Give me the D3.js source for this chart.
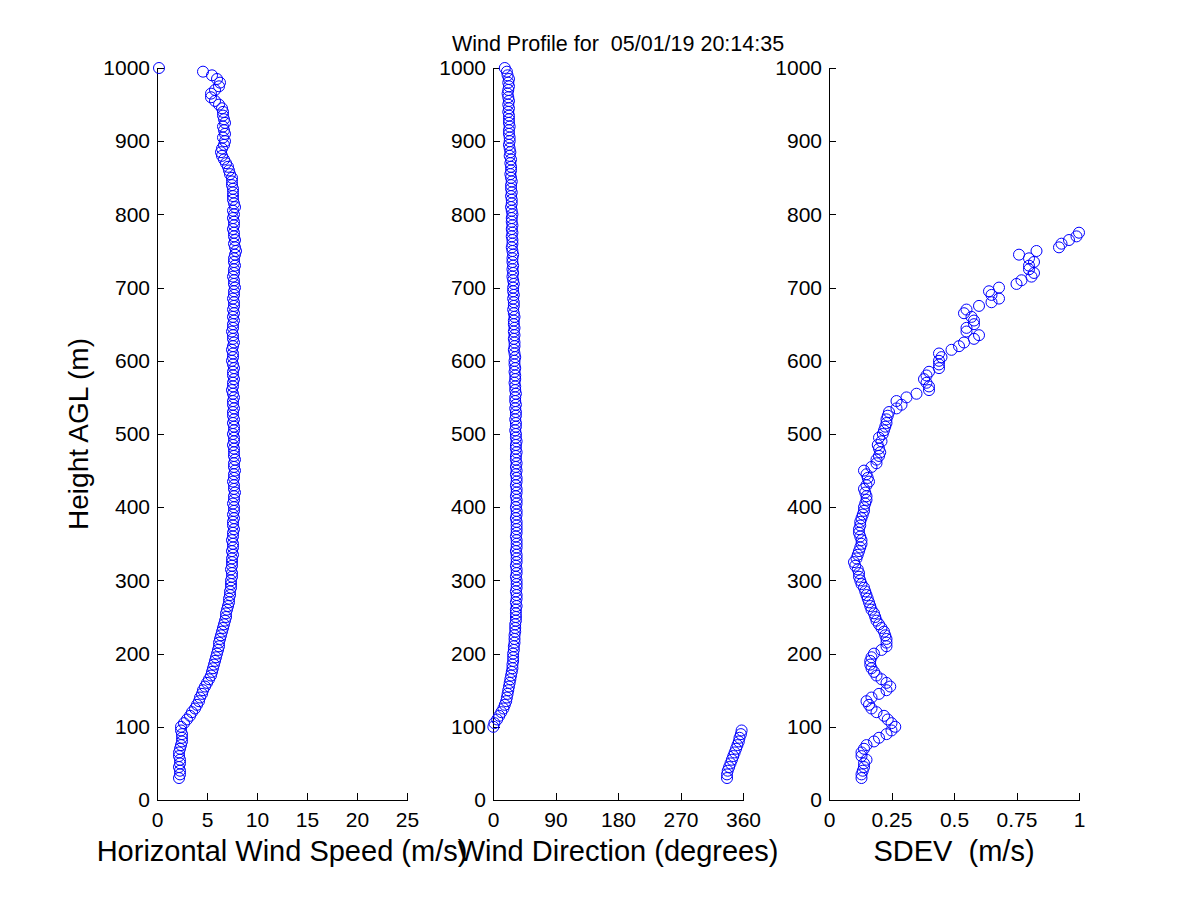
<!DOCTYPE html>
<meta charset="utf-8">
<html>

<head>
  <script src="https://d3js.org/d3.v7.min.js" charset="utf-8"></script>

  <style>
    body {
      margin: 0;
      background-color: white;
    }

    text {
      font-family: 'Liberation Sans', Arial, Helvetica, sans-serif;
      fill: black;
      white-space: pre;
    }

    .axis text {
      font-size: 21px;
    }

    .axis path,
    .axis line {
      fill: none;
      stroke: black;
      stroke-width: 1;
      shape-rendering: crispEdges;
    }

    circle {
      fill: none;
      stroke: #0000ff;
      stroke-width: 1;
    }
  </style>
</head>

<body>
  <script>
    //Range gates (m AGL)
    var heights = [
      30, 35, 40, 45, 50, 55, 60, 65, 70, 75,
      80, 85, 90, 95, 100, 105, 110, 115, 120, 125,
      130, 135, 140, 145, 150, 155, 160, 165, 170, 175,
      180, 185, 190, 195, 200, 205, 210, 215, 220, 225,
      230, 235, 240, 245, 250, 255, 260, 265, 270, 275,
      280, 285, 290, 295, 300, 305, 310, 315, 320, 325,
      330, 335, 340, 345, 350, 355, 360, 365, 370, 375,
      380, 385, 390, 395, 400, 405, 410, 415, 420, 425,
      430, 435, 440, 445, 450, 455, 460, 465, 470, 475,
      480, 485, 490, 495, 500, 505, 510, 515, 520, 525,
      530, 535, 540, 545, 550, 555, 560, 565, 570, 575,
      580, 585, 590, 595, 600, 605, 610, 615, 620, 625,
      630, 635, 640, 645, 650, 655, 660, 665, 670, 675,
      680, 685, 690, 695, 700, 705, 710, 715, 720, 725,
      730, 735, 740, 745, 750, 755, 760, 765, 770, 775,
      780, 785, 790, 795, 800, 805, 810, 815, 820, 825,
      830, 835, 840, 845, 850, 855, 860, 865, 870, 875,
      880, 885, 890, 895, 900, 905, 910, 915, 920, 925,
      930, 935, 940, 945, 950, 955, 960, 965, 970, 975,
      980, 985, 990, 995, 1000
    ];

    //Horizontal wind speed (m/s), one per gate
    var windSpeed = [
      2.2, 2.3, 2.3, 2.2, 2.3, 2.3, 2.2, 2.2, 2.3, 2.4,
      2.5, 2.5, 2.5, 2.4, 2.4, 2.7, 3.0, 3.3, 3.5, 3.8,
      4.0, 4.2, 4.3, 4.5, 4.6, 4.8, 5.0, 5.2, 5.4, 5.5,
      5.6, 5.7, 5.8, 5.9, 6.0, 6.1, 6.2, 6.2, 6.3, 6.4,
      6.5, 6.6, 6.7, 6.8, 6.9, 6.9, 7.0, 7.1, 7.2, 7.2,
      7.3, 7.3, 7.4, 7.4, 7.4, 7.5, 7.5, 7.4, 7.5, 7.5,
      7.5, 7.6, 7.5, 7.6, 7.6, 7.5, 7.6, 7.6, 7.7, 7.6,
      7.6, 7.7, 7.6, 7.7, 7.7, 7.6, 7.7, 7.7, 7.8, 7.7,
      7.7, 7.6, 7.7, 7.7, 7.8, 7.7, 7.7, 7.8, 7.7, 7.7,
      7.7, 7.6, 7.7, 7.7, 7.6, 7.7, 7.7, 7.6, 7.7, 7.6,
      7.6, 7.7, 7.6, 7.6, 7.7, 7.6, 7.5, 7.6, 7.6, 7.7,
      7.6, 7.6, 7.7, 7.6, 7.5, 7.6, 7.6, 7.5, 7.6, 7.7,
      7.6, 7.6, 7.5, 7.6, 7.6, 7.7, 7.6, 7.7, 7.6, 7.7,
      7.7, 7.6, 7.7, 7.7, 7.8, 7.7, 7.7, 7.6, 7.7, 7.7,
      7.8, 7.7, 7.7, 7.8, 7.9, 7.8, 7.7, 7.8, 7.7, 7.7,
      7.6, 7.7, 7.7, 7.6, 7.7, 7.6, 7.8, 7.7, 7.6, 7.6,
      7.6, 7.6, 7.5, 7.5, 7.5, 7.3, 7.2, 7.1, 6.9, 6.7,
      6.5, 6.4, 6.5, 6.7, 6.8, 6.6, 6.8, 6.7, 6.6, 6.8,
      6.7, 6.6, 6.6, 6.5, 6.2, 5.8, 5.4, 5.4, 5.8, 6.2,
      6.3, 6.0, 5.5, 4.6, 0.2
    ];

    //Wind direction (degrees), one per gate
    var windDir = [
      337, 337, 338, 340, 342, 344, 346, 348, 350, 352,
      354, 355, 357, 358, 0.5, 2, 6, 9, 12, 15,
      17, 19, 20, 21, 22, 23, 24, 25, 26, 27,
      28, 28, 29, 29, 29, 30, 30, 31, 31, 31,
      32, 32, 32, 33, 33, 33, 33, 34, 33, 34,
      34, 33, 34, 34, 34, 33, 34, 34, 33, 34,
      34, 34, 33, 34, 34, 34, 33, 34, 34, 34,
      34, 33, 34, 34, 33, 34, 34, 33, 34, 34,
      33, 34, 34, 33, 34, 33, 34, 33, 33, 34,
      33, 33, 34, 33, 33, 32, 33, 33, 32, 33,
      33, 32, 33, 32, 32, 33, 32, 32, 31, 32,
      32, 31, 32, 31, 31, 32, 31, 30, 31, 31,
      30, 31, 30, 31, 30, 30, 31, 30, 29, 30,
      30, 29, 30, 29, 29, 30, 29, 28, 29, 28,
      29, 28, 28, 29, 28, 27, 28, 28, 27, 28,
      27, 28, 27, 27, 28, 27, 26, 27, 27, 26,
      27, 26, 26, 27, 26, 25, 26, 26, 25, 26,
      24, 25, 24, 23, 24, 24, 23, 23, 24, 23,
      23, 23, 22, 23, 22, 23, 22, 21, 22, 23,
      22, 23, 21, 20, 17
    ];

    //Standard deviation (m/s), gates 30..775 (higher values fall off the axis)
    var sdev = [
      0.13, 0.13, 0.135, 0.14, 0.14, 0.15, 0.13, 0.13, 0.14, 0.15,
      0.18, 0.20, 0.23, 0.25, 0.265, 0.25, 0.235, 0.22, 0.19, 0.17,
      0.16, 0.15, 0.17, 0.20, 0.23, 0.245, 0.23, 0.21, 0.19, 0.18,
      0.17, 0.165, 0.165, 0.17, 0.18, 0.21, 0.23, 0.23, 0.23, 0.225,
      0.22, 0.21, 0.20, 0.19, 0.185, 0.18, 0.17, 0.165, 0.16, 0.155,
      0.15, 0.145, 0.14, 0.13, 0.125, 0.12, 0.12, 0.115, 0.105, 0.10,
      0.11, 0.115, 0.12, 0.125, 0.13, 0.13, 0.125, 0.12, 0.12, 0.125,
      0.125, 0.13, 0.135, 0.14, 0.14, 0.145, 0.15, 0.15, 0.145, 0.14,
      0.15, 0.16, 0.155, 0.15, 0.14, 0.17, 0.19, 0.19, 0.20, 0.205,
      0.20, 0.195, 0.21, 0.20, 0.215, 0.22, 0.225, 0.23, 0.23, 0.235,
      0.24, 0.27, 0.29, 0.27, 0.31, 0.35, 0.40, 0.40, 0.39, 0.38,
      0.39, 0.40, 0.44, 0.44, 0.44, 0.45, 0.44, 0.49, 0.52, 0.54,
      0.58, 0.60, 0.55, 0.55, 0.58, 0.58, 0.57, 0.54, 0.55, 0.60,
      0.65, 0.68, 0.65, 0.64, 0.68, 0.75, 0.77, 0.81, 0.82, 0.80,
      0.80, 0.82, 0.80, 0.76, 0.83, 0.92, 0.93, 0.96, 0.99, 1.00
    ];

    //Tick labels
    var heightTicks = [0, 100, 200, 300, 400, 500, 600, 700, 800, 900, 1000];
    var speedTicks = [0, 5, 10, 15, 20, 25];
    var dirTicks = [0, 90, 180, 270, 360];
    var sdevTicks = [0, 0.25, 0.5, 0.75, 1];

    var title = 'Wind Profile for  05/01/19 20:14:35';

    //Layout (pixels)
    var W = 1200,
      H = 900;
    var plotTop = 68,
      plotBottom = 800,
      pw = 250;
    var lefts = [157, 493, 829];

    var svg = d3.select('body')
      .append('svg')
      .attr('width', W)
      .attr('height', H);

    //Shared y scale
    var y = d3.scaleLinear()
      .domain([0, 1000])
      .range([plotBottom, plotTop]);

    function panel(left, domain, ticks, values, label) {
      var g = svg.append('g')
        .attr('transform', `translate(${left}, 0)`);

      var x = d3.scaleLinear()
        .domain(domain)
        .range([0, pw]);

      //Y axis
      g.append('g')
        .attr('class', 'axis')
        .call(d3.axisLeft(y)
          .tickValues(heightTicks)
          .tickFormat(d => d)
          .tickSizeInner(-7)
          .tickSizeOuter(0)
          .tickPadding(7));

      //X axis
      g.append('g')
        .attr('class', 'axis')
        .attr('transform', `translate(0, ${plotBottom})`)
        .call(d3.axisBottom(x)
          .tickValues(ticks)
          .tickFormat(d => d)
          .tickSizeInner(-7)
          .tickSizeOuter(0)
          .tickPadding(12));

      //Markers
      g.selectAll('circle')
        .data(values)
        .enter()
        .append('circle')
        .attr('cx', d => x(d))
        .attr('cy', (d, i) => y(heights[i]))
        .attr('r', 5.5);

      //X label
      g.append('text')
        .attr('x', pw / 2)
        .attr('y', 861)
        .attr('text-anchor', 'middle')
        .style('font-size', '29px')
        .text(label);

      return g;
    }

    panel(lefts[0], [0, 25], speedTicks, windSpeed, 'Horizontal Wind Speed (m/s)');
    var mid = panel(lefts[1], [0, 360], dirTicks, windDir, 'Wind Direction (degrees)');
    panel(lefts[2], [0, 1], sdevTicks, sdev, 'SDEV  (m/s)');

    //Title over the middle axes
    mid.append('text')
      .attr('x', pw / 2)
      .attr('y', 51)
      .attr('text-anchor', 'middle')
      .style('font-size', '21.5px')
      .text(title);

    //Y label
    svg.append('text')
      .attr('transform', `translate(88, ${(plotTop + plotBottom) / 2}) rotate(-90)`)
      .attr('text-anchor', 'middle')
      .style('font-size', '28px')
      .text('Height AGL (m)');
  </script>
</body>

</html>
